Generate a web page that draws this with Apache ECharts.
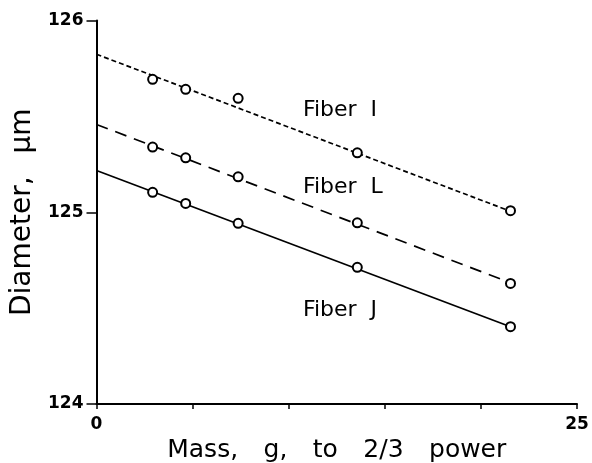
<!DOCTYPE html>
<html><head><meta charset="utf-8">
<script src="https://cdn.jsdelivr.net/npm/echarts@6/dist/echarts.min.js"></script>
<style>html,body{margin:0;padding:0;background:#fff}#c{width:592px;height:463px}</style>
</head><body><div id="c"></div>
<script>
// mass^(2/3) for 5, 10, 20, 50, 100 g
const massX = [2.92, 4.64, 7.37, 13.57, 21.54];
const fiberI = [125.693, 125.641, 125.594, 125.310, 125.008];
const fiberL = [125.340, 125.284, 125.185, 124.945, 124.629];
const fiberJ = [125.104, 125.046, 124.942, 124.713, 124.403];
const fitX = [0, 21.54];
const fitI = [125.824, 125.005];
const fitL = [125.458, 124.632];
const fitJ = [125.218, 124.403];
const labels = [
  {text: 'Fiber  I', x: 10.74, y: 125.53},
  {text: 'Fiber  L', x: 10.74, y: 125.13},
  {text: 'Fiber  J', x: 10.74, y: 124.49}
];
const xTicks = [0, 25];
const yTicks = [124, 125, 126];

const zip = (xs, ys) => xs.map((x, i) => [x, ys[i]]);
const ff = 'DejaVu Sans, sans-serif';
const fitLine = (data, type) => ({
  type: 'line', data: zip(fitX, data), symbol: 'none', silent: true,
  lineStyle: {color: '#000', width: 1.7, type: type, opacity: 1}, z: 2
});
const pts = (data) => ({
  type: 'scatter', data: zip(massX, data), symbol: 'circle', symbolSize: 9,
  itemStyle: {color: '#fff', borderColor: '#000', borderWidth: 2, opacity: 1}, z: 3
});

const chart = echarts.init(document.getElementById('c'));
chart.setOption({
  animation: false,
  backgroundColor: '#fff',
  grid: {left: 96.5, right: 15, top: 20.5, bottom: 59, outerBoundsMode: 'none', containLabel: false},
  xAxis: {
    type: 'value', min: 0, max: 25, interval: 5,
    name: 'Mass,\u2002\u2009 g,\u2002\u2009 to\u2002\u2009 2/3\u2002\u2009 power', nameLocation: 'middle', nameGap: 33,
    nameTextStyle: {fontFamily: ff, fontSize: 25, color: '#000'},
    axisLine: {lineStyle: {color: '#000', width: 2}},
    axisTick: {show: true, length: 5, lineStyle: {color: '#000', width: 1.5}},
    axisLabel: {fontFamily: ff, fontSize: 17, fontWeight: 'bold', color: '#000', margin: 12,
      formatter: v => xTicks.includes(v) ? String(v) : ''},
    splitLine: {show: false}
  },
  yAxis: {
    type: 'value', min: 124, max: 126, interval: 1,
    name: 'Diameter,\u2002 µm', nameLocation: 'middle', nameGap: 58,
    nameTextStyle: {fontFamily: ff, fontSize: 28, color: '#000'},
    axisLine: {lineStyle: {color: '#000', width: 2}},
    axisTick: {show: true, length: 10, lineStyle: {color: '#000', width: 1.5}},
    axisLabel: {fontFamily: ff, fontSize: 17, fontWeight: 'bold', color: '#000', margin: 13,
      formatter: v => yTicks.includes(v) ? String(v) : ''},
    splitLine: {show: false}
  },
  series: [
    fitLine(fitI, [5, 3]),
    fitLine(fitL, [12, 8]),
    fitLine(fitJ, 'solid'),
    pts(fiberI), pts(fiberL), pts(fiberJ),
    {
      type: 'scatter', symbolSize: 0, silent: true,
      itemStyle: {opacity: 1},
      data: labels.map(l => ({value: [l.x, l.y], name: l.text})),
      label: {show: true, position: 'right', distance: 0, formatter: p => p.name,
        fontFamily: ff, fontSize: 22, color: '#000', opacity: 1}
    }
  ]
});
</script></body></html>
